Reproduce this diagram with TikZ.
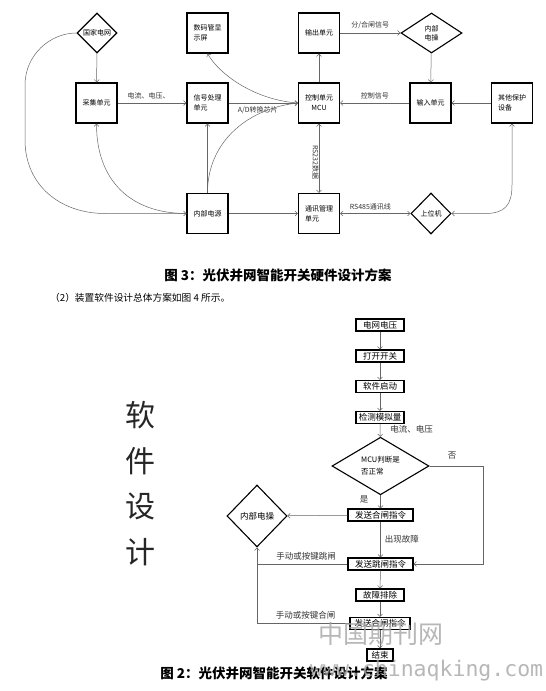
\documentclass[tikz,border=0pt]{standalone}
\usepackage{fontspec}
\setmainfont{Noto Sans CJK SC}
\newfontfamily\wmfont{DejaVu Sans Mono}
\usetikzlibrary{arrows.meta,shapes.geometric}
\begin{document}
\begin{tikzpicture}[x=1pt,y=-1pt,
  every node/.style={inner sep=0pt},
  hbox/.style={draw=black, line width=1.2pt, minimum width=41pt, minimum height=40pt, align=left, font=\fontsize{7}{10}\selectfont},
  hdia/.style={diamond, draw=black, line width=1.1pt, align=center, font=\fontsize{7}{9}\selectfont},
  sbox/.style={draw=black, line width=1.2pt, minimum height=12pt, font=\fontsize{8.5}{10}\selectfont},
  lbl/.style={font=\fontsize{7}{9}\selectfont, text=black!80},
  slbl/.style={font=\fontsize{8.5}{10}\selectfont, text=black!80},
  ar/.style={draw=black!60, line width=0.5pt, -{Straight Barb[length=2.5pt,width=5pt]}},
  dar/.style={draw=black!60, line width=0.5pt, {Straight Barb[length=2.5pt,width=5pt]}-{Straight Barb[length=2.5pt,width=5pt]}},
  pl/.style={draw=black!60, line width=0.5pt}]
\useasboundingbox (0,0) rectangle (546,691);
\fill[white] (0,0) rectangle (546,691);

% ---------- hardware diagram ----------
\node[hdia, minimum width=40pt, minimum height=40pt] (gj) at (97,33) {国家电网};
\node[hbox] (cj) at (96.5,103) {采集单元};
\node[hbox] (disp) at (207.5,33) {数码管显\\示屏};
\node[hbox] (sp) at (207.5,103) {信号处理\\单元};
\node[hbox] (out) at (319,33) {输出单元};
\node[hdia, minimum width=61pt, minimum height=40pt] (nbd) at (431.5,33) {内部\\电操};
\node[hbox, align=center] (mcu) at (319,103) {控制单元\\MCU};
\node[hbox] (inp) at (430.5,103) {输入单元};
\node[hbox] (qt) at (512,103) {其他保护\\设备};
\node[hbox] (ps) at (207.5,213.5) {内部电源};
\node[hbox] (comm) at (319,213.5) {通讯管理\\单元};
\node[hdia, minimum width=40pt, minimum height=41pt] (host) at (431,213.5) {上位机};

\draw[ar] (gj) -- (cj);
\draw[ar] (gj.west) .. controls (50,33) and (25,55) .. (25,85) -- (25,140)
  .. controls (25,185) and (60,213.5) .. (105,213.5) -- (ps.west);
\draw[ar] (ps.west) .. controls (130,213.5) and (96.5,180) .. (cj.south);
\draw[ar] (cj) -- node[lbl, above=4pt, pos=0.45] {电流、电压、} (sp);
\draw[ar] (sp) -- node[lbl, below=3pt, pos=0.42] {A/D转换芯片} (mcu);
\draw[ar] (mcu.west) .. controls (255,100) and (220,75) .. (disp.south);
\draw[ar] (ps.north) .. controls (207.5,140) and (250,108) .. (mcu.west);
\draw[ar] (ps) -- (sp);
\draw[ar] (ps) -- (comm);
\draw[dar] (mcu) -- node[lbl, rotate=-90, right=4pt, anchor=north] {RS232数据} (comm);
\draw[dar] (comm) -- node[lbl, above=3pt, pos=0.43] {RS485通讯线} (host);
\draw[dar] (host.east) -- (485,213.5) .. controls (505,213.5) and (512,205) .. (512,185) -- (qt.south);
\draw[ar] (qt) -- (inp);
\draw[ar] (inp) -- node[lbl, above=4pt] {控制信号} (mcu);
\draw[ar] (mcu) -- (out);
\draw[ar] (out) -- node[lbl, above=4pt] {分/合闸信号} (nbd);
\draw[ar] (nbd) -- (inp);

\node[font=\fontsize{13.5}{15}\selectfont\bfseries] (cap1) at (278,275) {图 3：光伏并网智能开关硬件设计方案};
\node[font=\fontsize{9.7}{12}\selectfont, anchor=west] (txt) at (50,298) {（2）装置软件设计总体方案如图 4 所示。};

% ---------- software flowchart ----------
\node[sbox, minimum width=48pt] (b1) at (380,325) {电网电压};
\node[sbox, minimum width=48pt] (b2) at (380,356) {打开开关};
\node[sbox, minimum width=48pt] (b3) at (380,386.5) {软件启动};
\node[sbox, minimum width=48pt] (b4) at (380,417.5) {检测模拟量};
\node[diamond, draw=black, line width=1.1pt, minimum width=97pt, minimum height=49pt, align=left, font=\fontsize{7.5}{12}\selectfont] (dia) at (380.5,466) {MCU判断是\\否正常};
\node[sbox, minimum width=65pt] (b5) at (380.5,515) {发送合闸指令};
\node[diamond, draw=black, line width=1.1pt, minimum width=60pt, minimum height=62pt, font=\fontsize{8.5}{10}\selectfont] (nd) at (257,516) {内部电操};
\node[sbox, minimum width=65pt] (b6) at (380.5,564) {发送跳闸指令};
\node[sbox, minimum width=48pt] (b7) at (380,595) {故障排除};
\node[sbox, minimum width=60pt] (b8) at (380,623.5) {发送合闸指令};
\node[sbox, minimum width=26pt] (b9) at (380,655) {结束};

\draw[ar] (b1) -- (b2);
\draw[ar] (b2) -- (b3);
\draw[ar] (b3) -- (b4);
\draw[ar] (b4) -- node[slbl, right=10pt, pos=0.4] {电流、电压} (dia);
\draw[ar] (dia) -- node[slbl, left=12pt, pos=0.3] {是} (b5);
\draw[ar] (b5) -- (nd);
\draw[ar] (b5) -- node[slbl, right=4pt] {出现故障} (b6);
\draw[ar] (dia.east) -- (483,466) -- (483,564) -- (b6.east);
\node[slbl] (no) at (452,456) {否};
\draw[ar] (b6) -- (b7);
\draw[ar] (b7) -- (b8);
\draw[ar] (b8) -- (b9);
\draw[ar] (b8.west) -| (nd.south);
\draw[pl] (b6.west) -- (nd.south |- b6.west);
\node[slbl] (l1) at (306,556) {手动或按键跳闸};
\node[slbl] (l2) at (305.5,615) {手动或按键合闸};

\node[font=\fontsize{30}{45.5}\selectfont, align=center, text=black!85] (vt) at (140,483.5) {软\\件\\设\\计};

\node[font=\fontsize{13.5}{15}\selectfont\bfseries] (cap2) at (274,673) {图 2：光伏并网智能开关软件设计方案};

% ---------- watermark ----------
\node[font=\fontsize{25}{27}\selectfont, text=black!35, opacity=0.8] (wm1) at (381,634) {中国期刊网};
\node[font=\wmfont\fontsize{21.5}{24}\selectfont, text=black!35, opacity=0.8, anchor=west] (wm2) at (310,671) {www.chinaqking.com};
\end{tikzpicture}
\end{document}
